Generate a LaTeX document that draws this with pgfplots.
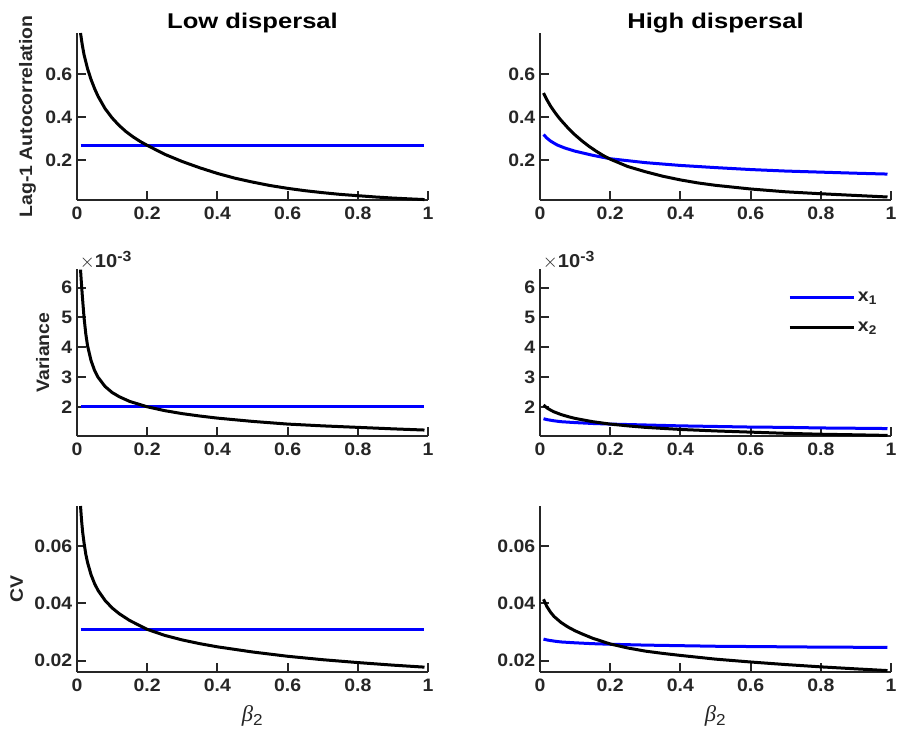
\documentclass[border=0pt]{standalone}
\usepackage{fontspec}
\setmainfont{Liberation Sans}[FakeStretch=1.08]
\newfontfamily\titlefont{Liberation Sans}[FakeStretch=1.2]
\newfontfamily\serifit{Liberation Serif}
\usepackage{pgfplots}
\pgfplotsset{compat=1.18}
\definecolor{axgray}{RGB}{38,38,38}
\definecolor{mblue}{RGB}{0,0,255}
\pgfplotsset{
  mystyle/.style={
    scale only axis, width=263.25pt, height=125.25pt,
    axis lines=left, axis line style={-, line width=1.5pt, color=axgray},
    tick style={line width=1.5pt, color=axgray}, major tick length=7pt, tick align=inside,
    xmin=0, xmax=1, xtick={0,0.2,0.4,0.6,0.8,1},
    scaled x ticks=false,
    tick label style={font=\fontsize{13.5}{15}\selectfont\bfseries, color=axgray},
    xticklabel style={yshift=-2pt},
    /pgf/number format/assume math mode=true,
    ylabel style={font=\fontsize{13.5}{15}\selectfont\bfseries, color=axgray, anchor=center},
    xlabel style={font=\fontsize{17}{19}\selectfont, color=axgray,
      at={(rel axis cs:0.5,0)}, anchor=north, inner sep=0pt, yshift=-25pt},
    title style={font=\fontsize{16}{18}\titlefont\bfseries, color=black,
      at={(rel axis cs:0.5,1)}, anchor=base, yshift=-2.5pt},
    clip=false,
    every axis plot/.append style={line width=2.25pt},
  },
  rowA/.style={ymin=0.017, ymax=0.79, ytick={0.2,0.4,0.6}, scaled y ticks=false},
  rowB/.style={ymin=1.02e-3, ymax=6.62e-3, ytick={0.002,0.003,0.004,0.005,0.006},
    scaled y ticks=base 10:3,
    ytick scale label code/.code={\fontsize{14}{15}\selectfont$\times$10\raisebox{0.55ex}{\fontsize{11}{12}\selectfont -3}},
    every y tick scale label/.style={at={(rel axis cs:0,1)}, anchor=base west, inner sep=0pt,
      xshift=2pt, yshift=1.5pt, color=axgray}},
  rowC/.style={ymin=0.016, ymax=0.074, ytick={0.02,0.04,0.06}, yticklabels={0.02,0.04,0.06},
    scaled y ticks=false},
}
\begin{document}
\begin{tikzpicture}
\useasboundingbox (0,0) rectangle (672.75pt,-546.75pt);
% ---------- Row 1 ----------
\begin{axis}[mystyle, rowA, at={(57.75pt,-150pt)}, anchor=south west,
  title={Low dispersal}, ylabel={Lag-1 Autocorrelation},
  ylabel style={at={(rel axis cs:-0.141,0.5)}}]
\addplot[mblue] coordinates {(0.01,0.27) (0.99,0.27)};
\addplot[black] coordinates {
(0.01,0.790) (0.015,0.735) (0.02,0.690) (0.03,0.625) (0.04,0.575) (0.05,0.533)
(0.06,0.497) (0.08,0.440) (0.10,0.397) (0.12,0.362) (0.14,0.333) (0.16,0.309)
(0.18,0.288) (0.20,0.270) (0.25,0.2285) (0.30,0.195) (0.35,0.166) (0.40,0.140)
(0.45,0.118) (0.50,0.100) (0.55,0.084) (0.60,0.071) (0.65,0.060) (0.70,0.051)
(0.75,0.043) (0.80,0.037) (0.85,0.031) (0.90,0.026) (0.95,0.022) (0.99,0.019)};
\end{axis}
\begin{axis}[mystyle, rowA, at={(405pt,-150pt)}, anchor=south west,
  title={High dispersal}]
\addplot[mblue] coordinates {
(0.01,0.320) (0.02,0.303) (0.03,0.290) (0.04,0.280) (0.05,0.271) (0.07,0.258)
(0.10,0.243) (0.15,0.224) (0.20,0.208) (0.30,0.190) (0.40,0.177) (0.50,0.167)
(0.60,0.158) (0.70,0.151) (0.80,0.146) (0.90,0.141) (0.99,0.137)};
\addplot[black] coordinates {
(0.01,0.512) (0.02,0.480) (0.03,0.452) (0.04,0.428) (0.05,0.406) (0.06,0.386)
(0.08,0.350) (0.10,0.318) (0.12,0.290) (0.14,0.265) (0.16,0.243) (0.18,0.223)
(0.20,0.206) (0.25,0.172) (0.30,0.148) (0.35,0.127) (0.40,0.110) (0.45,0.096)
(0.50,0.085) (0.60,0.068) (0.70,0.055) (0.80,0.046) (0.90,0.038) (0.99,0.031)};
\end{axis}
% ---------- Row 2 ----------
\begin{axis}[mystyle, rowB, at={(57.75pt,-327pt)}, anchor=south west,
  ylabel={Variance}, ylabel style={at={(rel axis cs:-0.098,0.5)}}]
\addplot[mblue] coordinates {(0.01,2.0e-3) (0.99,2.0e-3)};
\addplot[black] coordinates {
(0.01,6.60e-3) (0.012,6.25e-3) (0.015,5.75e-3) (0.02,5.00e-3) (0.025,4.45e-3)
(0.03,4.05e-3) (0.04,3.55e-3) (0.05,3.22e-3) (0.06,2.99e-3) (0.08,2.68e-3)
(0.10,2.48e-3) (0.12,2.34e-3) (0.15,2.18e-3) (0.20,2.00e-3) (0.25,1.87e-3)
(0.30,1.77e-3) (0.35,1.69e-3) (0.40,1.62e-3) (0.50,1.51e-3) (0.60,1.42e-3)
(0.70,1.36e-3) (0.80,1.31e-3) (0.90,1.26e-3) (0.99,1.22e-3)};
\end{axis}
\begin{axis}[mystyle, rowB, at={(405pt,-327pt)}, anchor=south west,
  legend style={draw=none, fill=none, at={(0.7066,0.88)}, anchor=north west, inner sep=0pt,
    font=\fontsize{13.5}{15}\selectfont\bfseries, text=axgray, row sep=10pt},
  legend image code/.code={\draw[#1, line width=2.25pt] (0pt,0pt) -- (43pt,0pt);
    \path (0pt,0pt) -- (48pt,0pt);}]
\addplot[mblue] coordinates {
(0.01,1.60e-3) (0.02,1.57e-3) (0.04,1.53e-3) (0.06,1.50e-3) (0.10,1.47e-3)
(0.15,1.44e-3) (0.20,1.42e-3) (0.30,1.39e-3) (0.40,1.36e-3) (0.50,1.34e-3)
(0.60,1.32e-3) (0.70,1.31e-3) (0.80,1.29e-3) (0.90,1.28e-3) (0.99,1.27e-3)};
\addlegendentry{x\textsubscript{1}}
\addplot[black] coordinates {
(0.01,2.06e-3) (0.02,1.96e-3) (0.03,1.89e-3) (0.04,1.83e-3) (0.06,1.74e-3)
(0.08,1.67e-3) (0.10,1.61e-3) (0.15,1.50e-3) (0.20,1.42e-3) (0.25,1.36e-3)
(0.30,1.31e-3) (0.40,1.24e-3) (0.50,1.19e-3) (0.60,1.15e-3) (0.70,1.11e-3)
(0.80,1.08e-3) (0.90,1.06e-3) (0.99,1.04e-3)};
\addlegendentry{x\textsubscript{2}}
\end{axis}
% ---------- Row 3 ----------
\begin{axis}[mystyle, rowC, height=124.5pt, at={(57.75pt,-504pt)}, anchor=south west,
  ylabel={CV}, ylabel style={at={(rel axis cs:-0.172,0.5)}},
  xlabel={{\serifit\itshape β}\textsubscript{2}}]
\addplot[mblue] coordinates {(0.01,0.0308) (0.99,0.0308)};
\addplot[black] coordinates {
(0.01,0.0740) (0.013,0.0690) (0.016,0.0650) (0.02,0.0612) (0.025,0.0572)
(0.03,0.0543) (0.04,0.0500) (0.05,0.0469) (0.06,0.0445) (0.08,0.0410)
(0.10,0.0384) (0.12,0.0364) (0.15,0.0340) (0.20,0.0309) (0.25,0.0288)
(0.30,0.0272) (0.35,0.0259) (0.40,0.0248) (0.50,0.0230) (0.60,0.0215)
(0.70,0.0203) (0.80,0.0193) (0.90,0.0184) (0.99,0.0177)};
\end{axis}
\begin{axis}[mystyle, rowC, height=124.5pt, at={(405pt,-504pt)}, anchor=south west,
  xlabel={{\serifit\itshape β}\textsubscript{2}}]
\addplot[mblue] coordinates {
(0.01,0.0275) (0.02,0.0272) (0.04,0.0268) (0.06,0.0265) (0.10,0.0262)
(0.15,0.0259) (0.20,0.0257) (0.30,0.0254) (0.40,0.0252) (0.50,0.0250)
(0.60,0.0249) (0.80,0.0247) (0.99,0.0246)};
\addplot[black] coordinates {
(0.01,0.0414) (0.02,0.0388) (0.03,0.0369) (0.04,0.0354) (0.06,0.0333)
(0.08,0.0317) (0.10,0.0304) (0.12,0.0293) (0.15,0.0278) (0.20,0.0258)
(0.25,0.0244) (0.30,0.0233) (0.35,0.0225) (0.40,0.0218) (0.50,0.0205)
(0.60,0.0195) (0.70,0.0186) (0.80,0.0178) (0.90,0.0171) (0.99,0.0165)};
\end{axis}
\end{tikzpicture}
\end{document}
